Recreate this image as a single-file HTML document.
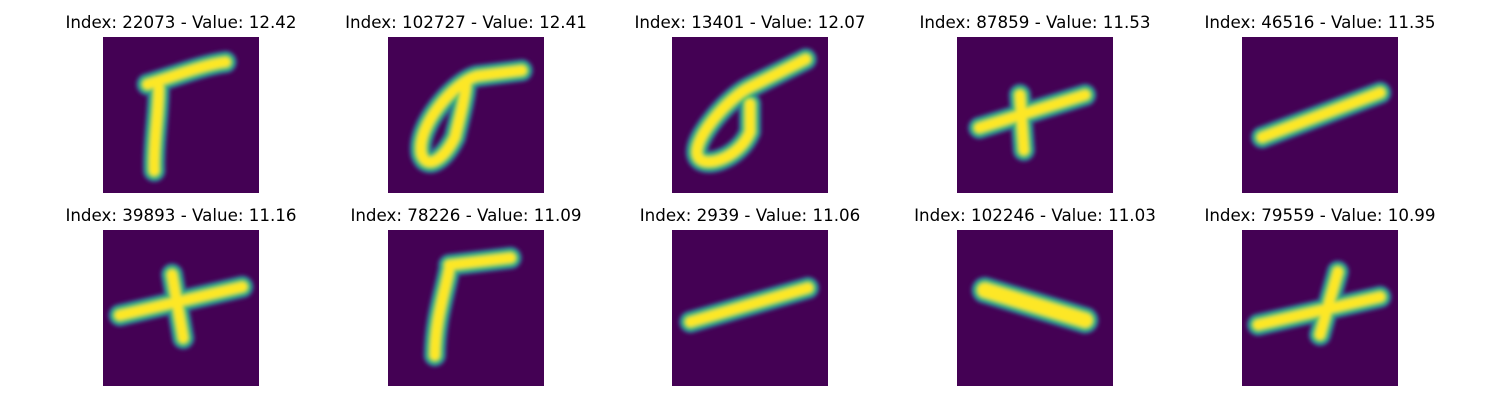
<!DOCTYPE html>
<html><head><meta charset="utf-8"><style>
body{margin:0;background:#fff;width:1500px;height:400px;overflow:hidden;font-family:"DejaVu Sans","Liberation Sans",sans-serif}
</style></head><body>
<svg id="fig" width="1500" height="400"></svg>
<script>
const indices=[22073,102727,13401,87859,46516,39893,78226,2939,102246,79559];
const values=["12.42","12.41","12.07","11.53","11.35","11.16","11.09","11.06","11.03","10.99"];
const strokes=[
 ["M8,8.5 C13,7 18,5 22,4.5","M10,9 C10,14 9,19 9.2,24"],
 ["M24,6 L16,7 C12,8 5,16 6,21 C7,24 10,22 12,18 C13,14 14,10 14,8"],
 ["M24,4 L14,9 C10,11 4,18 4.5,21 C5,24 12,22 14,17 L14,12"],
 ["M4,16.3 L23,10.4","M11.3,10.4 L12,20.3"],
 ["M3.6,18 L24.8,10"],
 ["M3,15.3 L25,10.2","M12.4,8 L14.4,19.4"],
 ["M11,6.3 L22,5","M11,7 C10,12 8.5,16 8.4,22.5"],
 ["M3.3,16.5 L24.4,10.4"],
 ["M5,10.8 L23,16.2"],
 ["M2.9,17 L24.8,12","M17.2,7.5 L14,18.8"]
];
const colX=[103,388,672,957,1242], rowY=[37,230], S=156;
const ns="http://www.w3.org/2000/svg", fig=document.getElementById('fig');
const defs=document.createElementNS(ns,'defs');
defs.innerHTML='<filter id="bl" filterUnits="userSpaceOnUse" x="0" y="0" width="28" height="28"><feGaussianBlur stdDeviation="0.35"/></filter>';
fig.appendChild(defs);
for(let i=0;i<10;i++){
 const x=colX[i%5], y=rowY[Math.floor(i/5)];
 const t=document.createElementNS(ns,'text');
 
 
 t.setAttribute('x',x+S/2);t.setAttribute('y',y-9);t.setAttribute('text-anchor','middle');
 t.setAttribute('font-size','16.7');t.textContent='Index: '+indices[i]+' - Value: '+values[i];
 fig.appendChild(t);
 const g=document.createElementNS(ns,'svg');
 
 
 g.setAttribute('x',x);g.setAttribute('y',y);g.setAttribute('width',S);g.setAttribute('height',S);
 g.setAttribute('viewBox','0 0 28 28');
 let html='<rect width="28" height="28" fill="#440154"/><g filter="url(#bl)" fill="none" stroke-linecap="round" stroke-linejoin="round">';
 const layers=[["#3b528b",4.2],["#21918c",3.5],["#5ec962",2.7],["#fde725",1.7]];
 for(const [c,w] of layers) for(const d of strokes[i]) html+=`<path d="${d}" stroke="${c}" stroke-width="${i==8?w+0.8:w}"/>`;
 html+='</g>';
 g.innerHTML=html;
 fig.appendChild(g);
}
</script>
</body></html>
